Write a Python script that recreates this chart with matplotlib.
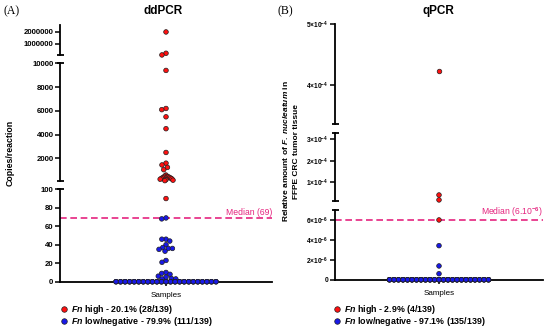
import numpy as np
import matplotlib
matplotlib.use('Agg')
import matplotlib.pyplot as plt
from matplotlib.lines import Line2D

# ---- data ----
# ddPCR, copies/reaction
dd_high = [2000000, 160000, 15000, 9400, 6200, 6100, 5500, 4500, 2500,
           1600, 1450, 1250, 1050,
           600, 520, 480, 450, 420, 400, 370, 340, 310, 280, 250, 210, 170, 130,
           90]
dd_low = [69, 68, 46, 46, 44, 40, 37, 36, 36, 35, 33, 23, 21,
          10, 9, 8, 6, 5, 3.5, 3, 3] + [0] * 90
dd_labels = [r'$\mathit{Fn}$ high - 20.1% (28/139)',
             r'$\mathit{Fn}$ low/negative - 79.9% (111/139)']
dd_median = 69

# qPCR, relative amount
q_high = [4.23e-4, 4.1e-5, 1.8e-5, 6.0e-6]
q_low = [3.42e-6, 1.38e-6, 6.0e-7] + [0] * 132
q_labels = [r'$\mathit{Fn}$ high - 2.9% (4/139)',
            r'$\mathit{Fn}$ low/negative - 97.1% (135/139)']
q_median = 6e-6

RED = '#ff1010'
BLUE = '#1818e8'
PINK = '#e5247f'

plt.rcParams.update({
    'font.family': ['Liberation Sans', 'DejaVu Sans'],
    'font.weight': 'bold',
    'mathtext.fontset': 'custom',
    'mathtext.rm': 'Liberation Sans:bold',
    'mathtext.it': 'Liberation Sans:italic:bold',
    'mathtext.bf': 'Liberation Sans:bold',
    'mathtext.sf': 'Liberation Sans',
})

W, H = 550, 327
fig = plt.figure(figsize=(W / 100, H / 100), dpi=100)


def swarm(ypix, d):
    ypix = np.asarray(ypix, float)
    xs = np.zeros(len(ypix))
    placed = []
    for i in np.argsort(ypix, kind='stable'):
        y = ypix[i]
        near = [(xp, yp) for xp, yp in placed if abs(yp - y) < d]
        cands = [0.0]
        for xp, yp in near:
            w = np.sqrt(d * d - (yp - y) ** 2)
            cands += [xp - w, xp + w]
        cands.sort(key=abs)
        pos = cands[-1]
        for c in cands:
            if all((c - xp) ** 2 + (y - yp) ** 2 >= d * d - 1e-6 for xp, yp in near):
                pos = c
                break
        xs[i] = pos
        placed.append((pos, y))
    return xs


def pack(xs, ypix, d, row_half, cluster_half):
    # GraphPad keeps clusters narrow and lets the baseline row overlap
    ypix = np.asarray(ypix)
    order = np.argsort(ypix)
    groups, cur = [], [order[0]]
    for a, b in zip(order[:-1], order[1:]):
        if ypix[b] - ypix[a] < d:
            cur.append(b)
        else:
            groups.append(cur)
            cur = [b]
    groups.append(cur)
    xs = xs.copy()
    for g in groups:
        g = np.array(g)
        wmax = np.abs(xs[g]).max()
        is_row = ypix.argmax() in g
        cap = row_half if is_row else cluster_half
        if wmax <= cap:
            continue
        if is_row:
            yrow = ypix[g].max()
            row = [i for i in g if ypix[i] == yrow]
            rest = [i for i in g if ypix[i] != yrow]
            row.sort(key=lambda i: abs(xs[i]))
            n = int(2 * cap // d) + 1
            slots = sorted(np.linspace(-cap, cap, n), key=abs)
            for j, i in enumerate(row):
                xs[i] = slots[j % n]
            for i in rest:
                xs[i] = np.clip(xs[i], -cap, cap)
        else:
            xs[g] *= cap / wmax
    return xs


def draw_panel(x0, x1, segs, high, low, median, med_text, row_half,
               tick_fs, d=4.4, cluster_half=7):
    values = np.array(list(high) + list(low), float)
    cols = np.array([RED] * len(high) + [BLUE] * len(low))
    seg_idx, ypix = [], []
    for v in values:
        for k, s in enumerate(segs):
            lo, hi = s['lim']
            if lo <= v <= hi:
                t, b = s['px']
                ypix.append(t + (hi - v) / (hi - lo) * (b - t))
                seg_idx.append(k)
                break
    seg_idx = np.array(seg_idx)
    xs = pack(swarm(ypix, d), ypix, d, row_half, cluster_half)
    wpx = x1 - x0
    cap = 3.5 / wpx
    axes = []
    for k, s in enumerate(segs):
        t, b = s['px']
        ax = fig.add_axes([x0 / W, 1 - b / H, wpx / W, (b - t) / H])
        ax.set_facecolor('none')
        ax.set_xlim(-1, 1)
        ax.set_ylim(*s['lim'])
        for sp in ['top', 'right']:
            ax.spines[sp].set_visible(False)
        ax.spines['left'].set_linewidth(1.3)
        ax.set_yticks(s['ticks'])
        ax.set_yticklabels(s['labels'], fontsize=tick_fs)
        ax.tick_params(axis='y', direction='out', length=3.5, width=1.1, pad=1.2)
        last = k == len(segs) - 1
        if last:
            ax.spines['bottom'].set_linewidth(1.3)
            ax.set_xticks([0])
            ax.set_xticklabels([''])
            ax.tick_params(axis='x', direction='out', length=3, width=1.1)
            ax.set_xlabel('Samples', fontsize=5.8, labelpad=1)
        else:
            ax.spines['bottom'].set_visible(False)
            ax.set_xticks([])
            ax.plot([-cap, cap], [0, 0], transform=ax.transAxes, color='k',
                    lw=1.3, clip_on=False, solid_capstyle='butt')
        if k > 0:
            ax.plot([-cap, cap], [1, 1], transform=ax.transAxes, color='k',
                    lw=1.3, clip_on=False, solid_capstyle='butt')
        m = seg_idx == k
        ax.scatter(xs[m] * 2 / wpx, values[m], c=cols[m], s=11,
                   edgecolors='#202020', linewidths=0.5, clip_on=False, zorder=3)
        axes.append(ax)
    low_ax = axes[-1]
    low_ax.axhline(median, color=PINK, lw=1.2, ls=(0, (4, 2.2)), zorder=2)
    rng = segs[-1]['lim'][1] - segs[-1]['lim'][0]
    low_ax.text(1.0, median + rng * 0.012, med_text, transform=low_ax.get_yaxis_transform(),
                ha='right', va='bottom', color=PINK, fontsize=6.2, fontweight='normal')
    return axes


dd_segs = [
    dict(lim=(1e4, 2.6e6), px=(25, 55), ticks=[1e6, 2e6],
         labels=['1000000', '2000000']),
    dict(lim=(100, 10000), px=(63.3, 181), ticks=[2000, 4000, 6000, 8000, 10000],
         labels=['2000', '4000', '6000', '8000', '10000']),
    dict(lim=(0, 100), px=(189.3, 281.7), ticks=[0, 20, 40, 60, 80, 100],
         labels=['0', '20', '40', '60', '80', '100']),
]
q_segs = [
    dict(lim=(3.35e-4, 5e-4), px=(24, 124.3), ticks=[4e-4, 5e-4],
         labels=[r'$4{\times}10^{-4}$', r'$5{\times}10^{-4}$']),
    dict(lim=(0.13e-4, 3.31e-4), px=(132.7, 201), ticks=[1e-4, 2e-4, 3e-4],
         labels=[r'$1{\times}10^{-4}$', r'$2{\times}10^{-4}$', r'$3{\times}10^{-4}$']),
    dict(lim=(0, 7e-6), px=(210, 279.7), ticks=[0, 2e-6, 4e-6, 6e-6],
         labels=['0', r'$2{\times}10^{-6}$', r'$4{\times}10^{-6}$', r'$6{\times}10^{-6}$']),
]

draw_panel(60, 272, dd_segs, dd_high, dd_low, dd_median, 'Median (69)',
           row_half=50, tick_fs=5.6)
draw_panel(335, 543, q_segs, q_high, q_low, q_median,
           r'Median (6.10$^{\mathsf{-6}}$)', row_half=49.5, tick_fs=4.8)

# titles and panel letters
fig.text(163 / W, 1 - 11 / H, 'ddPCR', ha='center', va='center', fontsize=8.5)
fig.text(438 / W, 1 - 11 / H, 'qPCR', ha='center', va='center', fontsize=8.5)
fig.text(3 / W, 1 - 11 / H, '(A)', ha='left', va='center', fontsize=8.5,
         family='Liberation Serif', fontweight='normal')
fig.text(278 / W, 1 - 11 / H, '(B)', ha='left', va='center', fontsize=8.5,
         family='Liberation Serif', fontweight='normal')

# y labels
fig.text(10 / W, 1 - 153 / H, 'Copies/reaction', rotation=90, ha='center',
         va='center', fontsize=6.3)
fig.text(285 / W, 1 - 151 / H, r'Relative amount of $\mathit{F.\ nucleatum}$ in',
         rotation=90, ha='center', va='center', fontsize=6)
fig.text(297 / W, 1 - 151 / H, 'FFPE CRC tumor tissue', rotation=90,
         ha='center', va='center', fontsize=6)


def legend(x, y, labels):
    handles = [Line2D([], [], marker='o', ls='none', markerfacecolor=c,
                      markeredgecolor='#202020', markeredgewidth=0.5, markersize=4)
               for c in (RED, BLUE)]
    fig.legend(handles, labels, loc='upper left', bbox_to_anchor=(x / W, 1 - y / H),
               frameon=False, prop=dict(size=6.4, weight='bold'), handlelength=0.7,
               handletextpad=0.45, labelspacing=-0.1, borderpad=0, borderaxespad=0)


legend(61, 303, dd_labels)
legend(334, 303, q_labels)

fig.savefig('out.png', dpi=100)
